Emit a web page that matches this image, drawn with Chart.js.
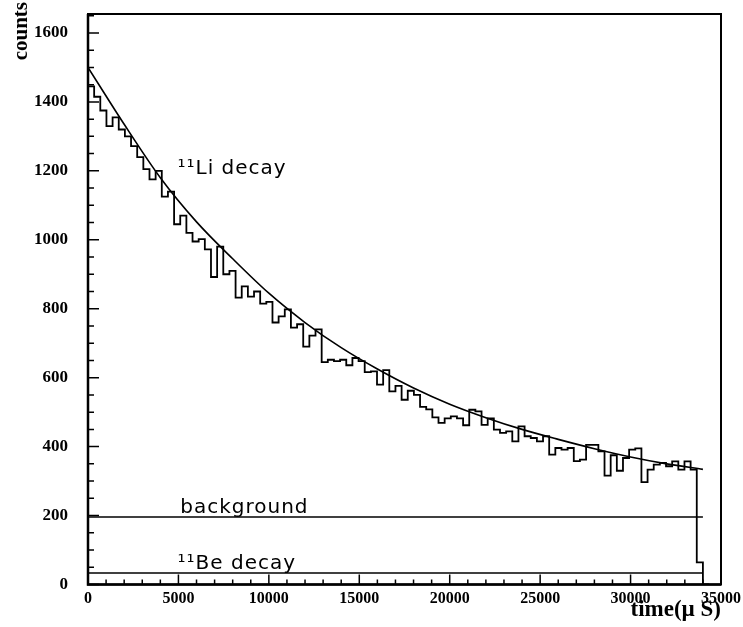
<!DOCTYPE html>
<html>
<head>
<meta charset="utf-8">
<script src="https://cdn.jsdelivr.net/npm/chart.js@4"></script>
<style>
  body { margin: 0; background: #fff; }
  canvas { display: block; }
</style>
</head>
<body>
<canvas id="decay-chart" width="743" height="627"></canvas>
<script>
// histogram of counts, 340 us bins starting at t = 0
const binWidth = 340;
const histCounts = [
    1495, 1445, 1415, 1375, 1330, 1355, 1320, 1300, 1272, 1240,
    1205, 1175, 1200, 1125, 1140, 1045, 1070, 1020, 995, 1002,
    972, 892, 980, 900, 910, 832, 865, 835, 850, 815,
    820, 760, 778, 798, 745, 755, 690, 722, 740, 645,
    652, 648, 652, 636, 657, 648, 616, 618, 580, 622,
    560, 576, 536, 562, 550, 515, 508, 485, 469, 482,
    488, 482, 462, 507, 502, 463, 482, 449, 440, 444,
    415, 459, 430, 425, 415, 430, 377, 396, 391, 396,
    358, 362, 405, 405, 386, 316, 375, 330, 367, 391,
    395, 297, 333, 348, 353, 343, 357, 333, 357, 333,
    64
];

// fitted decay curve
const fitTimes = [0, 2000, 4000, 6000, 8000, 10000, 12000, 14000, 16000, 18000,
                  20000, 22000, 24000, 26000, 28000, 30000, 32000, 34000];
const fitCounts = [1500, 1335, 1180, 1052, 945, 845, 760, 687, 625, 570,
                   523, 484, 450, 421, 394, 370, 350, 334];

const lineTimes = [0, 34000];
const backgroundLevel = [196, 196];
const beDecayLevel = [33, 33];

const yTickLabels = [0, 200, 400, 600, 800, 1000, 1200, 1400, 1600];
const xTickLabels = [0, 5000, 10000, 15000, 20000, 25000, 30000, 35000];

const annotations = [
    { text: '\u00b9\u00b9Li decay', x: 4950, y: 1190 },
    { text: 'background', x: 5100, y: 207 },
    { text: '\u00b9\u00b9Be decay', x: 4950, y: 46 }
];

const histPoints = histCounts.map((c, i) => ({ x: i * binWidth, y: c }));
histPoints.push({ x: histCounts.length * binWidth, y: 0 });

const serifBold = { family: '"Liberation Serif", "Times New Roman", serif', weight: 'bold' };

// inward tick marks, frame and text labels
const framePlugin = {
    id: 'frame',
    afterDraw(chart) {
        const { ctx, chartArea: a, scales } = chart;
        const xs = scales.x, ys = scales.y;
        ctx.save();
        ctx.strokeStyle = '#000';

        // y ticks
        ctx.lineWidth = 1.5;
        ctx.beginPath();
        for (let v = 0; v <= ys.max; v += 50) {
            const py = ys.getPixelForValue(v);
            const len = (v % 200 === 0) ? 11 : 6;
            ctx.moveTo(a.left, py);
            ctx.lineTo(a.left + len, py);
        }
        // x ticks
        for (let v = 0; v <= xs.max; v += 1000) {
            const px = xs.getPixelForValue(v);
            const len = (v % 5000 === 0) ? 10 : 5;
            ctx.moveTo(px, a.bottom);
            ctx.lineTo(px, a.bottom - len);
        }
        ctx.stroke();

        // frame
        ctx.lineWidth = 2;
        ctx.strokeRect(a.left, a.top, a.right - a.left, a.bottom - a.top);
        ctx.lineWidth = 2.5;
        ctx.beginPath();
        ctx.moveTo(a.left, a.top);
        ctx.lineTo(a.left, a.bottom);
        ctx.lineTo(a.right, a.bottom);
        ctx.stroke();

        // annotations
        ctx.fillStyle = '#000';
        ctx.font = '20px "DejaVu Sans", sans-serif';
        ctx.letterSpacing = '1px';
        ctx.textAlign = 'left';
        ctx.textBaseline = 'alphabetic';
        annotations.forEach(n => {
            ctx.fillText(n.text, xs.getPixelForValue(n.x), ys.getPixelForValue(n.y));
        });
        ctx.letterSpacing = '0px';

        // y axis title
        ctx.font = 'bold 21px "Liberation Serif", serif';
        ctx.translate(22, 2);
        ctx.rotate(-Math.PI / 2);
        ctx.textAlign = 'right';
        ctx.textBaseline = 'middle';
        ctx.fillText('counts', 0, 0);
        ctx.restore();
    }
};

new Chart(document.getElementById('decay-chart'), {
    type: 'line',
    data: {
        datasets: [
            {
                label: 'data',
                data: histPoints,
                stepped: 'after',
                borderColor: '#000',
                borderWidth: 1.8,
                pointRadius: 0
            },
            {
                label: 'fit',
                data: fitTimes.map((t, i) => ({ x: t, y: fitCounts[i] })),
                cubicInterpolationMode: 'monotone',
                borderColor: '#000',
                borderWidth: 1.6,
                pointRadius: 0
            },
            {
                label: 'background',
                data: lineTimes.map((t, i) => ({ x: t, y: backgroundLevel[i] })),
                borderColor: '#000',
                borderWidth: 1.5,
                pointRadius: 0
            },
            {
                label: 'Be decay',
                data: lineTimes.map((t, i) => ({ x: t, y: beDecayLevel[i] })),
                borderColor: '#000',
                borderWidth: 1.5,
                pointRadius: 0
            }
        ]
    },
    options: {
        responsive: false,
        devicePixelRatio: 1,
        animation: false,
        layout: { padding: { top: 14, right: 22, left: 0, bottom: 0 } },
        plugins: {
            legend: { display: false },
            tooltip: { enabled: false }
        },
        scales: {
            x: {
                type: 'linear',
                min: 0,
                max: 35000,
                afterFit: s => {
                    s.height = 42.5;
                    s.paddingLeft = 0;
                    s.paddingRight = 0;
                },
                afterBuildTicks: s => { s.ticks = xTickLabels.map(v => ({ value: v })); },
                grid: { display: false, drawTicks: false },
                border: { display: false },
                ticks: {
                    color: '#000',
                    padding: 5,
                    maxRotation: 0,
                    autoSkip: false,
                    callback: v => String(v),
                    font: { ...serifBold, size: 16 }
                },
                title: {
                    display: true,
                    text: 'time(\u00b5 S)',
                    align: 'end',
                    color: '#000',
                    padding: { top: 0, bottom: 3 },
                    font: { ...serifBold, size: 23 }
                }
            },
            y: {
                min: 0,
                max: 1655,
                afterFit: s => {
                    s.width = 88;
                    s.paddingTop = 0;
                    s.paddingBottom = 0;
                },
                afterBuildTicks: s => { s.ticks = yTickLabels.map(v => ({ value: v })); },
                grid: { display: false, drawTicks: false },
                border: { display: false },
                ticks: {
                    color: '#000',
                    padding: 20,
                    callback: v => String(v),
                    font: { ...serifBold, size: 17 }
                }
            }
        }
    },
    plugins: [framePlugin]
});
</script>
</body>
</html>
